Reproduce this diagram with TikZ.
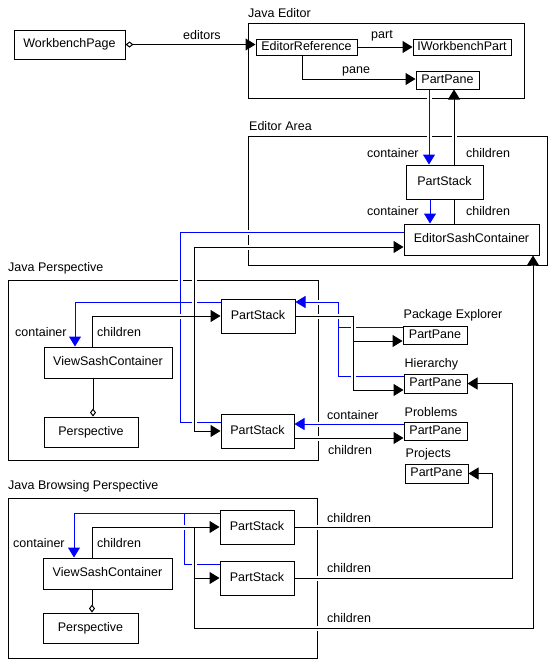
\documentclass[tikz,border=0pt]{standalone}
\usepackage{fontspec}
\setmainfont{Liberation Sans}
\usetikzlibrary{arrows.meta}
\newcommand{\diagfont}{\fontsize{12.5}{14}\selectfont}

\begin{document}
\begin{tikzpicture}[x=1pt,y=-1pt,>={Triangle[length=10pt,width=12pt]},dia/.tip={Diamond[open,length=8pt,width=6pt]},box/.style={draw,line width=1pt,inner sep=0pt,font=\diagfont,text height=9pt,text depth=2.5pt},lbl/.style={anchor=base west,inner sep=0pt,font=\diagfont},grpframe/.style={line width=1pt},link/.style={line width=1pt,preaction={draw=white,line width=5pt,-,shorten <=3pt,shorten >=3pt}},cont/.style={link,blue},kid/.style={link,black}]
\useasboundingbox (0,0) rectangle (555,670);
% editor side
\node[box,minimum width=111pt,minimum height=29pt](wbp) at (69.5,44.5){WorkbenchPage};
\node[box,minimum width=101pt,minimum height=16pt](edref) at (306.5,47){EditorReference};
\node[box,minimum width=98pt,minimum height=16pt](iwp) at (462,47){IWorkbenchPart};
\node[box,minimum width=63pt,minimum height=18pt](edpane) at (447.5,80){PartPane};
\node[box,minimum width=77pt,minimum height=34pt](edstack) at (444.5,182){PartStack};
\node[box,minimum width=135pt,minimum height=31pt](esc) at (471.5,239.5){EditorSashContainer};
% java perspective
\node[box,minimum width=128pt,minimum height=31pt](jvsc) at (108,362.5){ViewSashContainer};
\node[box,minimum width=94pt,minimum height=30pt](jpersp) at (91,432){Perspective};
\node[box,minimum width=74pt,minimum height=34pt](jstack1) at (258,316){PartStack};
\node[box,minimum width=73pt,minimum height=34pt](jstack2) at (257.5,431){PartStack};
\node[box,minimum width=64pt,minimum height=18pt](pkgpane) at (435,335){PartPane};
\node[box,minimum width=63pt,minimum height=19pt](hierpane) at (435.5,383.5){PartPane};
\node[box,minimum width=63pt,minimum height=18pt](probpane) at (435.5,431){PartPane};
\node[box,minimum width=63pt,minimum height=19pt](projpane) at (436.5,473.5){PartPane};
\node[lbl](pkgcap) at ([xshift=1pt,yshift=7pt]pkgpane.north west){Package Explorer};
\node[lbl](hiercap) at ([xshift=1pt,yshift=6pt]hierpane.north west){Hierarchy};
\node[lbl](probcap) at ([xshift=1pt,yshift=5pt]probpane.north west){Problems};
\node[lbl](projcap) at ([xshift=1pt,yshift=6pt]projpane.north west){Projects};
% java browsing perspective
\node[box,minimum width=129pt,minimum height=31pt](bvsc) at (107.5,573.5){ViewSashContainer};
\node[box,minimum width=95pt,minimum height=30pt](bpersp) at (90.5,628){Perspective};
\node[box,minimum width=74pt,minimum height=34pt](bstack1) at (257,527){PartStack};
\node[box,minimum width=74pt,minimum height=34pt](bstack2) at (257,578){PartStack};
% groups
\draw[grpframe](248,23) rectangle (524,98);
\node[lbl](jedlabel) at (248,17){Java Editor};
\draw[grpframe](248,136) rectangle (547,265);
\node[lbl](arealabel) at (249,130){Editor Area};
\draw[grpframe](8,280) rectangle (318,460);
\node[lbl](jplabel) at (8,271.5){Java Perspective};
\draw[grpframe](8,498) rectangle (317,658);
\node[lbl](jbplabel) at (8,489.5){Java Browsing Perspective};
% junctions
\coordinate (jb) at (180,302);
\coordinate (jk) at (194,316);
\coordinate (jtop) at (194,247);
\coordinate (pb) at (338,327);
\coordinate (pk) at (353,341);
\coordinate (bb) at (184,513);
\coordinate (bk1) at (194,527);
\coordinate (bk2) at (194,578);
\coordinate (bk3) at (194,628);
% editor links
\draw[link,dia->](wbp.east)--(wbp.east -| edref.west);
\draw[link,->](edref.east)--(iwp.west);
\draw[link,->]([xshift=-4.5pt]edref.south)|-([yshift=1pt]edpane.west);
\draw[cont,->]([xshift=-18.5pt]edpane.south)--([xshift=-18.5pt]edpane.south |- edstack.north);
\draw[kid,->]([xshift=9.5pt]edstack.north)--([xshift=9.5pt]edstack.north |- edpane.south);
\draw[cont,->]([xshift=-14.5pt]edstack.south)--([xshift=-14.5pt]edstack.south |- esc.north);
\draw[kid]([xshift=9.5pt]edstack.south)--([xshift=9.5pt]edstack.south |- esc.north);
\node[lbl](editorsl) at (183,39){editors};
\node[lbl](partl) at (371,38.5){part};
\node[lbl](panel) at (342,73.5){pane};
\node[lbl](edcont1) at (367,157){container};
\node[lbl](edkid1) at (466,157){children};
\node[lbl](edcont2) at (367,215){container};
\node[lbl](edkid2) at (466,215){children};
% java perspective links
\draw[link,dia-]([xshift=2pt]jpersp.north)--([xshift=2pt]jpersp.north |- jvsc.south);
\draw[cont]([yshift=14pt]jstack1.west)--(jb);
\draw[cont,->](jb)-|([xshift=-33pt]jvsc.north);
\draw[cont]([yshift=7.5pt]esc.west)-|(jb);
\draw[cont](jb)|-([yshift=9pt]jstack2.west);
\draw[kid]([xshift=-16pt]jvsc.north)|-(jk);
\draw[kid,->](jk)--(jstack1.west);
\draw[kid](jk)--(jtop);
\draw[kid,->](jtop)--([yshift=-7.5pt]esc.west);
\draw[kid,->](jk)|-(jstack2.west);
\draw[cont,->](pb)|-([yshift=14pt]jstack1.east);
\draw[cont]([yshift=8pt]pkgpane.west)--(pb);
\draw[cont](pb)|-([yshift=7.5pt]hierpane.west);
\draw[kid](jstack1.east)-|(pk);
\draw[kid,->](pk)--([yshift=-6pt]pkgpane.west);
\draw[kid,->](pk)|-([yshift=-6.5pt]hierpane.west);
\draw[cont,->]([yshift=7pt]probpane.west)--([yshift=7pt]probpane.west -| jstack2.east);
\draw[kid,->]([yshift=-7pt]jstack2.east)--([yshift=-7pt]jstack2.east -| probpane.west);
\node[lbl](jcont) at (15,336){container};
\node[lbl](jkid) at (97,336){children};
\node[lbl](pcont) at (327,419){container};
\node[lbl](pkid) at (328,454){children};
% java browsing perspective links
\draw[link,dia-]([xshift=1.5pt]bpersp.north)--([xshift=1.5pt]bpersp.north |- bvsc.south);
\draw[cont]([yshift=14pt]bstack1.west)--(bb);
\draw[cont,->](bb)-|([xshift=-33.5pt]bvsc.north);
\draw[cont]([yshift=14pt]bstack2.west)-|(bb);
\draw[kid]([xshift=-15.5pt]bvsc.north)|-(bk1);
\draw[kid,->](bk1)--(bstack1.west);
\draw[kid](bk1)--(bk2);
\draw[kid,->](bk2)--(bstack2.west);
\draw[kid](bk2)--(bk3);
\draw[kid,->](bk3)-|([xshift=61.5pt]esc.south);
\draw[kid,->](bstack1.east)-|([xshift=24pt]projpane.east)--(projpane.east);
\draw[kid,->](bstack2.east)-|([xshift=45pt]hierpane.east)--(hierpane.east);
\node[lbl](bcont) at (13,547){container};
\node[lbl](bkid) at (97,547){children};
\node[lbl](bkid1) at (327,522){children};
\node[lbl](bkid2) at (327,572){children};
\node[lbl](bkid3) at (327,622){children};
\end{tikzpicture}
\end{document}
